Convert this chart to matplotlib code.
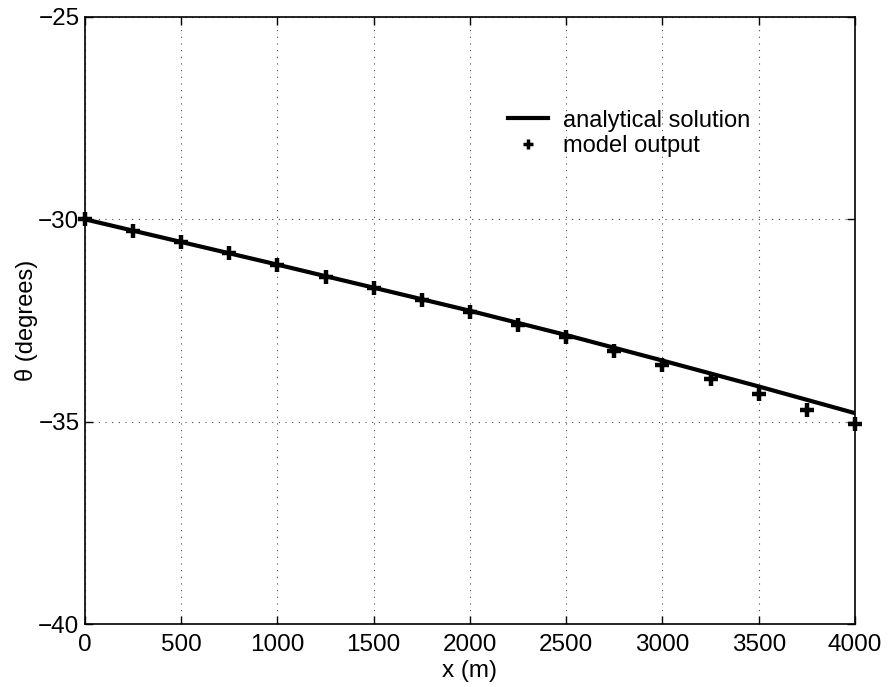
import numpy as np
import matplotlib
matplotlib.use("Agg")
import matplotlib.pyplot as plt

plt.rcParams['font.family'] = ['Liberation Sans', 'DejaVu Sans']

# analytical solution, sampled every 500 m
x_analytical = [0, 500, 1000, 1500, 2000, 2500, 3000, 3500, 4000]
theta_analytical = [-30.00, -30.56, -31.12, -31.69, -32.26, -32.86, -33.49, -34.13, -34.79]

# model output every 250 m
x_model = [0, 250, 500, 750, 1000, 1250, 1500, 1750, 2000,
           2250, 2500, 2750, 3000, 3250, 3500, 3750, 4000]
theta_model = [-30.00, -30.29, -30.57, -30.84, -31.12, -31.42, -31.70, -31.99, -32.28,
               -32.61, -32.92, -33.25, -33.60, -33.94, -34.32, -34.70, -35.06]

x_ticks = [0, 500, 1000, 1500, 2000, 2500, 3000, 3500, 4000]
y_ticks = [-40, -35, -30, -25]

fig = plt.figure(figsize=(8.88, 6.87), dpi=100)
ax = fig.add_axes([0.0957, 0.0917, 0.8671, 0.8836])

ax.plot(x_analytical, theta_analytical, color='black', lw=3,
        label='analytical solution', zorder=3)
ax.plot(x_model, theta_model, ls='none', marker='+', ms=10, mew=3.2,
        color='black', label='model output', zorder=4, clip_on=False)

ax.set_xlim(0, 4000)
ax.set_ylim(-40, -25)
ax.set_xticks(x_ticks)
ax.set_yticks(y_ticks)
ax.set_yticklabels([f"\u2212{abs(v)}" for v in y_ticks])
ax.tick_params(direction='in', top=True, right=True, length=6, width=1,
               labelsize=17.5, pad=4)
ax.tick_params(axis='x', pad=7)
ax.grid(True, ls=(0, (1, 5)), color='black', lw=0.8, alpha=0.7)
for s in ax.spines.values():
    s.set_linewidth(1.2)

ax.set_xlabel('x (m)', fontsize=17.5, labelpad=3)
ax.set_ylabel('\u03b8 (degrees)', fontsize=17, labelpad=0)

leg = ax.legend(loc='center left', bbox_to_anchor=(0.572, 0.8057),
                bbox_transform=fig.transFigure, frameon=False, fontsize=17,
                handlelength=1.7, handletextpad=0.65, borderpad=0,
                borderaxespad=0, labelspacing=0.15, numpoints=1)
for h in leg.legend_handles:
    if h.get_marker() == '+':
        h.set_markersize(7)
        h.set_markeredgewidth(2.5)

fig.savefig('out.png', dpi=100)
